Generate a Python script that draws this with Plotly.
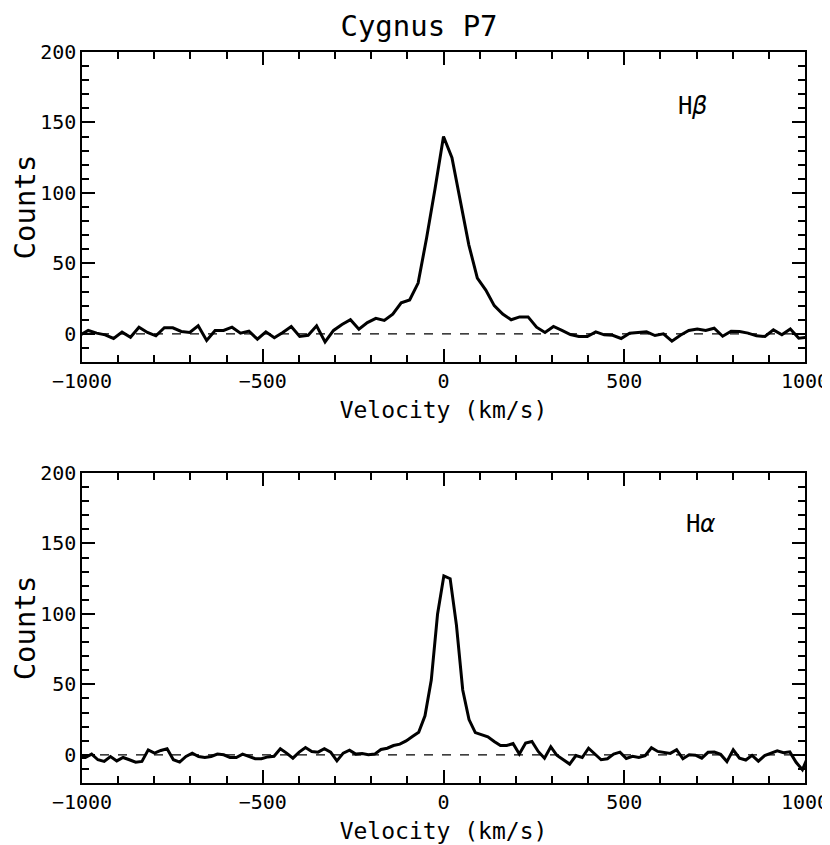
import plotly.graph_objects as go
from plotly.subplots import make_subplots

# H-beta profile (velocity in km/s, counts)
hb_velocity = [
    -1006.2, -982.8, -959.4, -936.0, -912.6, -889.2, -865.8, -842.4, -819.0, -795.6,
    -772.2, -748.8, -725.4, -702.0, -678.6, -655.2, -631.8, -608.4, -585.0, -561.6,
    -538.2, -514.8, -491.4, -468.0, -444.6, -421.2, -397.8, -374.4, -351.0, -327.6,
    -304.2, -280.8, -257.4, -234.0, -210.6, -187.2, -163.8, -140.4, -117.0, -93.6,
    -70.2, -46.8, -23.4, 0.0, 23.4, 46.8, 70.2, 93.6, 117.0, 140.4,
    163.8, 187.2, 210.6, 234.0, 257.4, 280.8, 304.2, 327.6, 351.0, 374.4,
    397.8, 421.2, 444.6, 468.0, 491.4, 514.8, 538.2, 561.6, 585.0, 608.4,
    631.8, 655.2, 678.6, 702.0, 725.4, 748.8, 772.2, 795.6, 819.0, 842.4,
    865.8, 889.2, 912.6, 936.0, 959.4, 982.8, 1006.2,
]
hb_counts = [
    -1.0, 2.4, 0.5, -0.7, -3.3, 1.2, -2.4, 4.7, 1.0, -1.4,
    4.3, 4.3, 1.7, 1.0, 5.7, -4.7, 2.4, 2.4, 4.7, 0.5,
    1.9, -3.8, 1.4, -2.8, 1.0, 5.2, -1.9, -1.0, 5.7, -5.7,
    2.4, 6.6, 10.0, 3.3, 8.0, 11.0, 9.5, 14.0, 22.0, 24.0,
    36.0, 68.0, 103.0, 140.0, 125.0, 94.0, 63.0, 39.5, 31.0, 20.0,
    14.0, 10.0, 12.0, 12.0, 4.7, 1.0, 5.2, 2.4, -0.5, -1.9,
    -1.9, 1.4, -0.7, -1.0, -3.3, 0.5, 1.2, 1.4, -1.2, 0.0,
    -5.2, -1.0, 2.4, 3.5, 2.4, 4.0, -1.7, 1.9, 1.7, 0.5,
    -1.4, -1.9, 2.8, -0.7, 3.5, -3.1, -2.4,
]

# H-alpha profile (velocity in km/s, counts)
ha_velocity = [
    -1008.2, -990.8, -973.4, -956.0, -938.6, -921.2, -903.8, -886.4, -869.0, -851.6,
    -834.2, -816.8, -799.4, -782.0, -764.6, -747.2, -729.8, -712.4, -695.0, -677.6,
    -660.2, -642.8, -625.4, -608.0, -590.6, -573.2, -555.8, -538.4, -521.0, -503.6,
    -486.2, -468.8, -451.4, -434.0, -416.6, -399.2, -381.8, -364.4, -347.0, -329.6,
    -312.2, -294.8, -277.4, -260.0, -242.6, -225.2, -207.8, -190.4, -173.0, -155.6,
    -138.2, -120.8, -103.4, -86.0, -68.6, -51.2, -33.8, -16.4, 1.0, 18.4,
    35.8, 53.2, 70.6, 88.0, 105.4, 122.8, 140.2, 157.6, 175.0, 192.4,
    209.8, 227.2, 244.6, 262.0, 279.4, 296.8, 314.2, 331.6, 349.0, 366.4,
    383.8, 401.2, 418.6, 436.0, 453.4, 470.8, 488.2, 505.6, 523.0, 540.4,
    557.8, 575.2, 592.6, 610.0, 627.4, 644.8, 662.2, 679.6, 697.0, 714.4,
    731.8, 749.2, 766.6, 784.0, 801.4, 818.8, 836.2, 853.6, 871.0, 888.4,
    905.8, 923.2, 940.6, 958.0, 975.4, 992.8, 1010.2,
]
ha_counts = [
    -2.0, -1.9, 0.5, -3.5, -4.7, -1.2, -4.3, -1.9, -3.5, -5.2,
    -4.7, 3.5, 1.2, 3.1, 4.3, -3.5, -5.2, -1.2, 1.2, -1.2,
    -1.9, -1.2, 0.5, 0.0, -1.9, -1.9, 0.5, -1.2, -2.8, -2.8,
    -1.5, -1.0, 4.3, 1.2, -2.4, 1.9, 5.2, 2.4, 1.9, 4.3,
    1.9, -4.3, 1.2, 3.3, 0.5, 0.9, 0.0, 0.5, 3.8, 4.7,
    6.6, 7.6, 9.9, 13.0, 16.0, 27.7, 53.0, 100.0, 127.0, 125.0,
    92.0, 46.0, 25.0, 15.8, 14.2, 12.8, 9.5, 6.6, 6.6, 8.0,
    0.5, 8.3, 9.5, 2.4, -2.4, 5.7, -0.5, -3.5, -6.6, -0.5,
    -1.9, 4.7, 0.5, -3.5, -2.8, 0.5, 1.9, -2.6, -1.0, -1.9,
    -0.6, 5.0, 2.4, 1.8, 1.0, 3.6, -2.8, 0.0, -0.3, -2.4,
    1.8, 2.0, 0.3, -4.8, 3.6, -2.4, -3.7, -0.4, -4.5, -0.6,
    1.2, 2.8, 1.5, 2.1, -5.3, -10.6, 0.0,
]

line_labels = ["H<i>β</i>", "H<i>α</i>"]
label_pos = [(690, 162), (712, 164)]

FONT = "DejaVu Sans Mono"

# the page adds an 8px body margin, so the figure is 8px smaller
# and the left/top margins are trimmed by the same amount
FIG_W, FIG_H = 822, 837


def build_figure():
    fig = make_subplots(rows=2, cols=1, vertical_spacing=0.1518)

    profiles = [(hb_velocity, hb_counts), (ha_velocity, ha_counts)]
    for i, (vel, cnt) in enumerate(profiles):
        row = i + 1
        fig.add_trace(
            go.Scatter(x=vel, y=cnt, mode="lines",
                       line=dict(color="black", width=3),
                       showlegend=False),
            row=row, col=1,
        )
        # zero reference
        fig.add_hline(y=0, line_dash="dash", line_color="black",
                      line_width=1.2, row=row, col=1)
        fig.add_annotation(
            x=label_pos[i][0], y=label_pos[i][1], text=line_labels[i],
            showarrow=False, font=dict(size=24, color="black", family=FONT),
            row=row, col=1,
        )

    fig.update_xaxes(
        range=[-1000, 1000], tickmode="linear", tick0=0, dtick=500,
        ticks="inside", ticklen=13, tickwidth=1.5, tickcolor="black",
        minor=dict(ticks="inside", tick0=0, dtick=100, ticklen=7,
                   tickwidth=1.5, tickcolor="black", showgrid=False),
        showline=True, linecolor="black", linewidth=1.5, mirror="ticks",
        showgrid=False, zeroline=False, automargin=False,
        tickfont=dict(size=20, color="black", family=FONT),
        title_text="Velocity (km/s)",
        title_font=dict(size=23, color="black", family=FONT),
        title_standoff=10,
    )
    fig.update_yaxes(
        range=[-20, 200], tickmode="linear", tick0=0, dtick=50,
        ticks="inside", ticklen=13, tickwidth=1.5, tickcolor="black",
        minor=dict(ticks="inside", tick0=0, dtick=10, ticklen=7,
                   tickwidth=1.5, tickcolor="black", showgrid=False),
        showline=True, linecolor="black", linewidth=1.5, mirror="ticks",
        showgrid=False, zeroline=False, automargin=False,
        tickfont=dict(size=20, color="black", family=FONT),
        title_text="Counts",
        title_font=dict(size=29, color="black", family=FONT),
        title_standoff=17,
    )

    fig.update_layout(
        width=FIG_W, height=FIG_H,
        margin=dict(l=74, r=25, t=44, b=62),
        plot_bgcolor="white", paper_bgcolor="white",
        title=dict(text="Cygnus P7", x=0.5, xanchor="center",
                   y=0.979, yanchor="middle",
                   font=dict(size=29, color="black", family=FONT)),
        font=dict(family=FONT, color="black"),
    )
    return fig


fig = build_figure()
fig.write_html("out.html")
